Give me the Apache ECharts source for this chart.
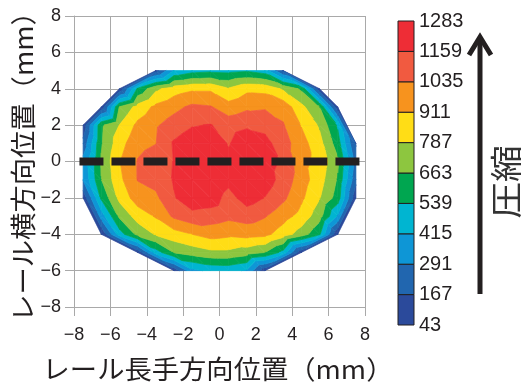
<!DOCTYPE html>
<html>
<head>
<meta charset="utf-8">
<script src="https://cdn.jsdelivr.net/npm/echarts@6/dist/echarts.min.js"></script>
<style>
  html, body { margin: 0; padding: 0; background: #ffffff; }
  #chart { width: 521px; height: 387px; }
</style>
</head>
<body>
<div id="chart"></div>
<script>
// Contour levels of the pressure map and the colour of each band (low to high)
const levels = [43, 167, 291, 415, 539, 663, 787, 911, 1035, 1159, 1283];
const bandColors = ['#2B4A9B', '#2166AF', '#0E96D6', '#00B5D1', '#00A650',
                    '#8DC63F', '#FFDD16', '#F7931E', '#F15A40', '#EE2D36'];

// Measured points: one row per lateral position, 1 mm apart along the rail
const rowY  = [5, 4, 3, 2, 1, 0, -1, -2, -3, -4, -5, -6];
const rowX0 = [-3.5, -5.5, -6.5, -7.5, -7.5, -7.5, -7.5, -7.5, -6.5, -6.5, -4.5, -2.5];
const rowP5 = [120, 420, 490, 510, 500, 520, 470, 150];
const rowP4 = [80, 560, 760, 850, 890, 890, 800, 880, 870, 770, 640, 80];
const rowP3 = [80, 670, 830, 940, 1000, 1060, 1045, 960, 1010, 1020, 990, 820, 665, 80];
const rowP2 = [80, 640, 790, 940, 1020, 1090, 1150, 1165, 1110, 1140, 1120, 1045, 905, 770, 520];
const rowP1 = [200, 650, 860, 1000, 1032, 1175, 1240, 1240, 1150, 1235, 1200, 1090, 960, 830, 600, 150];
const rowP0 = [327, 675, 905, 1042, 1090, 1165, 1235, 1250, 1190, 1260, 1210, 1141, 952, 870, 685, 245];
const rowM1 = [300, 660, 880, 1040, 1075, 1170, 1260, 1283, 1200, 1270, 1225, 1110, 970, 840, 650, 200];
const rowM2 = [80, 560, 820, 975, 1010, 1150, 1240, 1230, 1110, 1220, 1155, 1060, 935, 795, 610, 80];
const rowM3 = [350, 690, 840, 925, 1060, 1120, 1100, 1065, 1090, 1045, 960, 870, 715, 400];
const rowM4 = [60, 480, 700, 800, 860, 912, 960, 940, 960, 945, 850, 730, 560, 60];
const rowM5 = [80, 480, 670, 720, 760, 760, 720, 665, 500, 80];
const rowM6 = [80, 380, 440, 450, 400, 80];
const rowValues = [rowP5, rowP4, rowP3, rowP2, rowP1, rowP0, rowM1, rowM2, rowM3, rowM4, rowM5, rowM6];

// Rail centre line (dashed)
const centerLineX = [-7.7, 7.7];
const centerLineY = 0;

// ---- triangulate neighbouring rows into a strip of triangles ----
const rows = rowY.map((y, r) => rowValues[r].map((v, k) => ({ x: rowX0[r] + k, y: y, v: v })));
const triangles = [];
for (let r = 0; r < rows.length - 1; r++) {
  const B = rows[r];      // upper row
  const A = rows[r + 1];  // lower row
  let i = 0, j = 0;
  while (i < A.length - 1 || j < B.length - 1) {
    let stepA;
    if (i === A.length - 1) stepA = false;
    else if (j === B.length - 1) stepA = true;
    else stepA = A[i + 1].x <= B[j + 1].x;
    if (stepA) { triangles.push([A[i], A[i + 1], B[j]]); i++; }
    else { triangles.push([A[i], B[j + 1], B[j]]); j++; }
  }
}
// close concave notches along both sides so the mesh covers the convex hull
function turn(a, b, c) { return (b.x - a.x) * (c.y - b.y) - (b.y - a.y) * (c.x - b.x); }
function fillChain(chain) {
  const st = [];
  chain.forEach(p => {
    while (st.length >= 2 && turn(st[st.length - 2], st[st.length - 1], p) > 1e-9) {
      triangles.push([st[st.length - 2], st[st.length - 1], p]);
      st.pop();
    }
    st.push(p);
  });
}
fillChain(rows.map(r => r[r.length - 1]));            // right side, top to bottom
fillChain(rows.slice().reverse().map(r => r[0]));     // left side, bottom to top

// ---- cut each triangle into filled contour bands (linear interpolation) ----
function clipPoly(poly, lv, keepAbove) {
  const out = [];
  for (let k = 0; k < poly.length; k++) {
    const P = poly[k], Q = poly[(k + 1) % poly.length];
    const pIn = keepAbove ? P.v >= lv : P.v <= lv;
    const qIn = keepAbove ? Q.v >= lv : Q.v <= lv;
    if (pIn) out.push(P);
    if (pIn !== qIn) {
      const t = (lv - P.v) / (Q.v - P.v);
      out.push({ x: P.x + t * (Q.x - P.x), y: P.y + t * (Q.y - P.y), v: lv });
    }
  }
  return out;
}
const bandPolys = [];
triangles.forEach(tri => {
  for (let b = 0; b < bandColors.length; b++) {
    const lo = b === 0 ? -Infinity : levels[b];
    const hi = b === bandColors.length - 1 ? Infinity : levels[b + 1];
    let p = clipPoly(tri, lo, true);
    if (p.length >= 3) p = clipPoly(p, hi, false);
    if (p.length >= 3) bandPolys.push({ band: b, pts: p });
  }
});
const contourData = bandPolys.map((p, i) => {
  const cx = p.pts.reduce((s, q) => s + q.x, 0) / p.pts.length;
  const cy = p.pts.reduce((s, q) => s + q.y, 0) / p.pts.length;
  return [cx, cy, i];
});

// colour bar: one entry per band index
const colorBarData = bandColors.map((c, i) => [0, i]);

const minus = v => (v < 0 ? '\u2212' + Math.abs(v) : String(v));
const gridGray = '#a9a9a9';
const ink = '#231f20';
const latin = '"Liberation Sans", Arial, sans-serif';
const cjk = '"Noto Sans CJK JP", sans-serif';

const chart = echarts.init(document.getElementById('chart'), null, { renderer: 'canvas' });
chart.setOption({
  animation: false,
  backgroundColor: '#ffffff',
  grid: [
    { left: 74, right: 156, top: 16, bottom: 80 },
    { left: 398, width: 16, top: 21, height: 304 }
  ],
  xAxis: [
    {
      gridIndex: 0, type: 'value', min: -8, max: 8, interval: 2,
      axisLine: { show: true, onZero: false, lineStyle: { color: gridGray, width: 1 } },
      axisTick: { show: true, length: 9, lineStyle: { color: gridGray } },
      axisLabel: { formatter: minus, fontSize: 18, fontFamily: latin, color: ink, margin: 19 },
      splitLine: { show: true, lineStyle: { color: gridGray, width: 1 } }
    },
    { gridIndex: 1, type: 'value', min: 0, max: 1, show: false }
  ],
  yAxis: [
    {
      gridIndex: 0, type: 'value', min: -8, max: 8, interval: 2,
      axisLine: { show: true, onZero: false, lineStyle: { color: gridGray, width: 1 } },
      axisTick: { show: true, length: 9, lineStyle: { color: gridGray } },
      axisLabel: {
        formatter: minus, fontSize: 18, fontFamily: latin, color: ink, margin: 13,
        padding: [4, 0, 0, 0]
      },
      splitLine: { show: true, lineStyle: { color: gridGray, width: 1 } }
    },
    {
      gridIndex: 1, type: 'value', min: 0, max: 10, interval: 1, position: 'right',
      axisLine: { show: false }, axisTick: { show: false }, splitLine: { show: false },
      axisLabel: {
        formatter: v => String(levels[v]), fontSize: 20, fontFamily: latin,
        color: ink, margin: 5
      }
    }
  ],
  series: [
    {
      type: 'custom',
      xAxisIndex: 0, yAxisIndex: 0,
      clip: true,
      data: contourData,
      renderItem: function (params, api) {
        const poly = bandPolys[api.value(2)];
        const color = bandColors[poly.band];
        return {
          type: 'polygon',
          shape: { points: poly.pts.map(p => api.coord([p.x, p.y])) },
          style: { fill: color, stroke: color, lineWidth: 0.7 }
        };
      },
      z: 2
    },
    {
      type: 'line',
      xAxisIndex: 0, yAxisIndex: 0,
      data: centerLineX.map(x => [x, centerLineY]),
      symbol: 'none',
      lineStyle: { color: ink, width: 8, type: [24, 8], cap: 'butt' },
      z: 5
    },
    {
      type: 'custom',
      xAxisIndex: 1, yAxisIndex: 1,
      data: colorBarData,
      renderItem: function (params, api) {
        const i = api.value(1);
        const p0 = api.coord([0, i + 1]);
        const p1 = api.coord([1, i]);
        return {
          type: 'rect',
          shape: { x: p0[0], y: p0[1], width: p1[0] - p0[0], height: p1[1] - p0[1] },
          style: { fill: bandColors[i], stroke: ink, lineWidth: 1 }
        };
      }
    }
  ],
  graphic: [
    {
      type: 'text', x: 23, y: 160, rotation: Math.PI / 2, scaleX: 1.05,
      style: {
        text: 'レール横方向位置（mm）', font: '26px ' + cjk, fill: ink,
        textAlign: 'center', textVerticalAlign: 'middle'
      }
    },
    {
      type: 'text', x: 218, y: 369, scaleX: 1.05,
      style: {
        text: 'レール長手方向位置（mm）', font: '26px ' + cjk, fill: ink,
        textAlign: 'center', textVerticalAlign: 'middle'
      }
    },
    {
      type: 'line', shape: { x1: 480, y1: 294, x2: 480, y2: 38 },
      style: { stroke: ink, lineWidth: 5 }
    },
    {
      type: 'polyline', shape: { points: [[469, 55], [480, 37], [491, 55]] },
      style: { stroke: ink, lineWidth: 5, fill: null, lineJoin: 'miter' }
    },
    {
      type: 'text', x: 506, y: 182, rotation: Math.PI / 2, scaleX: 1.15,
      style: {
        text: '圧縮', font: '32px ' + cjk, fill: '#333333',
        textAlign: 'center', textVerticalAlign: 'middle'
      }
    }
  ]
});
</script>
</body>
</html>
